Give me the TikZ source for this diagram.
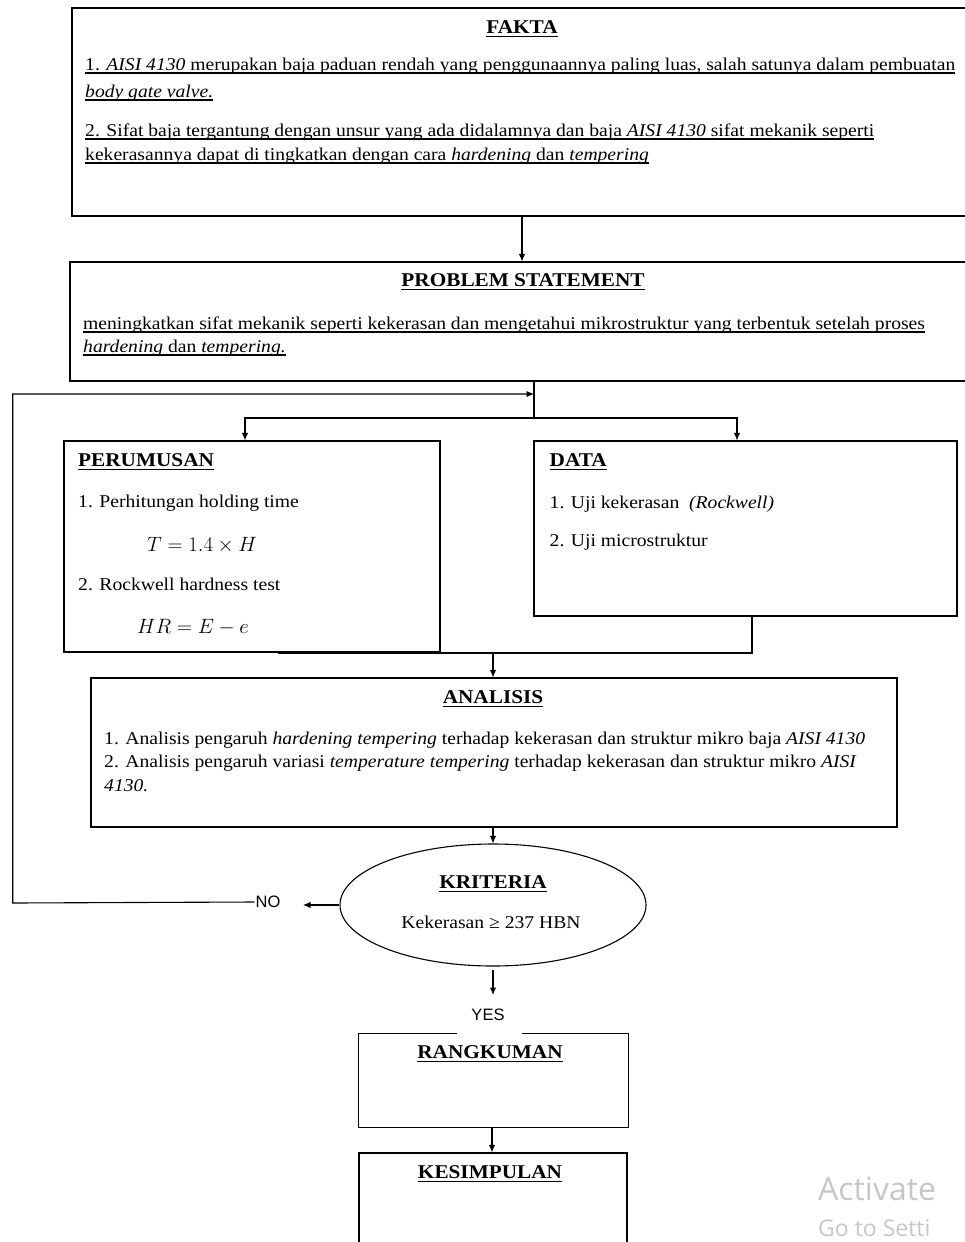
\documentclass[tikz,border=0pt]{standalone}
\usepackage{fontspec}
\setmainfont{Liberation Serif}[FakeStretch=1.09]
\newfontfamily\sansf{Liberation Sans}
\newfontfamily\wmfont{Open Sans}
\newcommand{\myul}[1]{\setbox0\hbox{#1}\leavevmode\rlap{\vrule height -2.4pt depth 3.7pt width \wd0}\box0}
\usetikzlibrary{arrows.meta,shapes.geometric}
\tikzset{
  box/.style={draw, line width=1.1pt, inner sep=0pt},
  bare/.style={inner sep=0pt},
  ttl/.style={font=\fontsize{19.5}{23}\selectfont\bfseries, inner sep=0pt},
  txt/.style={font=\fontsize{18}{23}\selectfont, inner sep=0pt, anchor=west, text height=12pt, text depth=4pt},
  mth/.style={font=\fontsize{18}{23}\selectfont, inner sep=0pt},
  eqn/.style={font=\fontsize{20.5}{24}\selectfont, inner sep=0pt},
  arr/.style={-{Latex[length=7.5pt,width=6.5pt]}, line width=1.1pt},
  ln/.style={line width=1.1pt},
  lbl/.style={font=\sansf\fontsize{16.5}{18}\selectfont, inner sep=1pt},
  wm/.style={text=black!22, inner sep=0pt, anchor=west}
}
\begin{document}
\begin{tikzpicture}[x=1pt,y=-1pt]
\useasboundingbox (0,0) rectangle (965,1242);
\fill[white] (0,0) rectangle (965,1242);
\clip (0,0) rectangle (965,1242);

% ---------------- boxes ----------------
\node[box, minimum width=903pt, minimum height=208pt] (fakta) at (523.5,112) {};
\node[box, minimum width=905pt, minimum height=119pt] (prob) at (522.5,321.5) {};
\node[box, minimum width=376pt, minimum height=211pt] (perum) at (252,546.5) {};
\node[box, minimum width=423pt, minimum height=175pt] (data) at (745.5,528.5) {};
\node[box, minimum width=806pt, minimum height=149pt] (anal) at (494,752.5) {};
\node[box, ellipse, minimum width=306pt, minimum height=122pt] (krit) at (493,905) {};
\node[bare, minimum width=269pt, minimum height=93pt] (rang) at (493.5,1080.5) {};
\node[box, minimum width=268pt, minimum height=110pt] (kes) at (493,1208) {};

% ---------------- texts ----------------
\node[ttl] (tfakta) at (522,29) {\myul{FAKTA}};
\node[txt] (f1) at (85,66) {\myul{1. \textit{AISI 4130} merupakan baja paduan rendah yang penggunaannya paling luas, salah satunya dalam pembuatan}};
\node[txt] (f2) at (85,93) {\myul{\textit{body gate valve.}}};
\node[txt] (f3) at (85,132) {\myul{2. Sifat baja tergantung dengan unsur yang ada didalamnya dan baja \textit{AISI 4130} sifat mekanik seperti}};
\node[txt] (f4) at (85,156) {\myul{kekerasannya dapat di tingkatkan dengan cara \textit{hardening} dan \textit{tempering}}};

\node[ttl] (tprob) at (523,282) {\myul{PROBLEM STATEMENT}};
\node[txt] (p1) at (83,325) {\myul{meningkatkan sifat mekanik seperti kekerasan dan mengetahui mikrostruktur yang terbentuk setelah proses}};
\node[txt] (p2) at (83,348) {\myul{\textit{hardening} dan \textit{tempering.}}};

\node[ttl, anchor=west] (tperum) at (78,462) {\myul{PERUMUSAN}};
\node[txt] (r1) at (78,503) {1. Perhitungan holding time};
\node[eqn] (r2) at (202,545) {$T = 1.4 \times H$};
\node[txt] (r3) at (78,586) {2. Rockwell hardness test};
\node[eqn] (r4) at (193,627) {$HR = E - e$};

\node[ttl, anchor=west] (tdata) at (549.5,462) {\myul{DATA}};
\node[txt] (d1) at (549.5,504) {1. Uji kekerasan \ \textit{(Rockwell)}};
\node[txt] (d2) at (549.5,542) {2. Uji microstruktur};

\node[ttl] (tanal) at (493,699) {\myul{ANALISIS}};
\node[txt] (a1) at (104,740) {1. Analisis pengaruh \textit{hardening tempering} terhadap kekerasan dan struktur mikro baja \textit{AISI 4130}};
\node[txt] (a2) at (104,763) {2. Analisis pengaruh variasi \textit{temperature tempering} terhadap kekerasan dan struktur mikro \textit{AISI}};
\node[txt] (a3) at (104,787) {\textit{4130.}};

\node[ttl] (tkrit) at (493,884) {\myul{KRITERIA}};
\node[mth] (k1) at (491,922) {Kekerasan ≥ 237 HBN};

\node[ttl] (trang) at (490,1054) {\myul{RANGKUMAN}};
\node[ttl] (tkes) at (490,1174) {\myul{KESIMPULAN}};

\node[lbl] (no) at (268,902) {NO};
\node[lbl] (yes) at (488,1015) {YES};

\node[wm, font=\wmfont\fontsize{32}{34}\selectfont] (wm1) at (818,1189) {Activate};
\node[wm, font=\wmfont\fontsize{23}{25}\selectfont] (wm2) at (818,1228) {Go to Setti};

% ---------------- helper coordinates ----------------
\coordinate (xA) at (522,0);
\coordinate (xB) at (534,0);
\coordinate (br) at (534,418);
\coordinate (xL) at (245,0);
\coordinate (xR) at (737,0);
\coordinate (lp1) at (12.7,903);
\coordinate (lp2) at (12.7,394);
\coordinate (lp3) at (534,394);
\coordinate (noTip) at (303,905);
\coordinate (xD) at (752,0);
\coordinate (jL) at (278,653);
\coordinate (xM) at (493,0);
\coordinate (ya) at (493,970);
\coordinate (yb) at (493,995);
\coordinate (gL) at (457,0);
\coordinate (gR) at (522,0);
\coordinate (xK) at (492,0);

% ---------------- connectors ----------------
\draw[arr] (fakta.south -| xA) -- (prob.north -| xA);
\draw[ln] (prob.south -| xB) -- (br);
\draw[arr] (br) -| (perum.north -| xL);
\draw[arr] (br) -| (data.north -| xR);
\draw[arr] (no.west) -- (lp1) -- (lp2) -- (lp3);
\draw[arr] (krit.west) -- (noTip);
\draw[ln] (data.south -| xD) |- (jL);
\draw[arr] (xM |- jL) -- (anal.north -| xM);
\draw[arr] (anal.south -| xM) -- (krit.north);
\draw[arr] (ya) -- (yb);
\draw[ln] (rang.north -| gL) -- (rang.north west) -- (rang.south west) -- (rang.south east) -- (rang.north east) -- (rang.north -| gR);
\draw[arr] (rang.south -| xK) -- (kes.north -| xK);
\end{tikzpicture}
\end{document}
